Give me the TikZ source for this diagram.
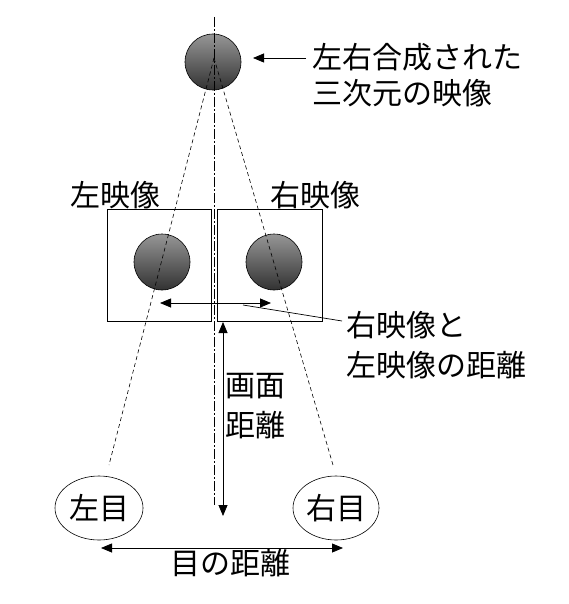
\documentclass[tikz,border=0pt]{standalone}
\usepackage{fontspec}
\setmainfont{Noto Sans CJK JP}
\usetikzlibrary{arrows.meta,shapes.geometric}
\begin{document}
\begin{tikzpicture}[x={(1pt,0)},y={(0,-1pt)},
  ball/.style={circle,draw=black,line width=0.6pt,minimum size=56pt,inner sep=0pt,
    top color={rgb,255:red,150;green,150;blue,150},bottom color={rgb,255:red,50;green,50;blue,50}},
  panel/.style={draw=black,line width=0.7pt,inner sep=0pt},
  eye/.style={ellipse,draw=black,line width=0.6pt,inner sep=0pt},
  lbl/.style={font=\fontsize{30}{38}\selectfont,inner sep=0pt},
  conn/.style={line width=0.8pt,-{Triangle[length=11pt,width=9pt]}},
  dconn/.style={line width=0.8pt,{Triangle[length=11pt,width=9pt]}-{Triangle[length=11pt,width=9pt]}},
  sight/.style={line width=0.6pt,dash pattern=on 4pt off 3pt},
  axis/.style={line width=0.6pt,dash pattern=on 10pt off 2pt on 2pt off 2pt}]
\useasboundingbox (0,0) rectangle (568,604);
% boxes
\node[panel,minimum width=104pt,minimum height=112pt] (lbox) at (159,265) {};
\node[panel,minimum width=105pt,minimum height=112pt] (rbox) at (269.5,265) {};
% spheres
\node[ball] (top) at (213,62) {};
\node[ball] (lball) at (162,262) {};
\node[ball] (rball) at (274,262) {};
% eyes
\node[eye,minimum width=88pt,minimum height=64pt] (leye) at (99,508) {};
\node[eye,minimum width=86pt,minimum height=64pt] (reye) at (336,508) {};
\node[lbl] at (leye.center) {左目};
\node[lbl] at (reye.center) {右目};
% coordinates
\coordinate (apex) at (214,58);
\coordinate (lend) at (109,465);
\coordinate (rend) at (333,465);
\coordinate (axtop) at (214,17);
\coordinate (axbot) at (214,505);
% sight lines and axis
\draw[sight] (apex) -- (lend);
\draw[sight] (apex) -- (rend);
\draw[axis] (axtop) -- (axbot);
% labels
\node[lbl,anchor=west,align=left,font=\fontsize{30}{36}\selectfont] (ttxt) at (312,75) {左右合成された\\三次元の映像};
\node[lbl] (ltxt) at (115,195) {左映像};
\node[lbl] (rtxt) at (315,195) {右映像};
\node[lbl,anchor=west,align=left,font=\fontsize{30}{40}\selectfont] (dtxt) at (346,345) {右映像と\\左映像の距離};
\node[lbl,anchor=west,align=left,font=\fontsize{30}{40}\selectfont] (stxt) at (225,406) {画面\\距離};
\node[lbl] (etxt) at (230,563) {目の距離};
% arrows
\coordinate (a1s) at (306,58);
\coordinate (a1e) at (253,58);
\draw[conn] (a1s) -- (a1e);
\coordinate (b1) at (160,303);
\coordinate (b2) at (271,303);
\draw[dconn] (b1) -- (b2);
\coordinate (c1) at (243,305);
\coordinate (c2) at (342,321);
\draw[line width=0.7pt] (c1) -- (c2);
\coordinate (v1) at (223,322);
\coordinate (v2) at (223,516);
\draw[dconn] (v1) -- (v2);
\coordinate (e1) at (101,548);
\coordinate (e2) at (343,548);
\draw[dconn] (e1) -- (e2);
\end{tikzpicture}
\end{document}
